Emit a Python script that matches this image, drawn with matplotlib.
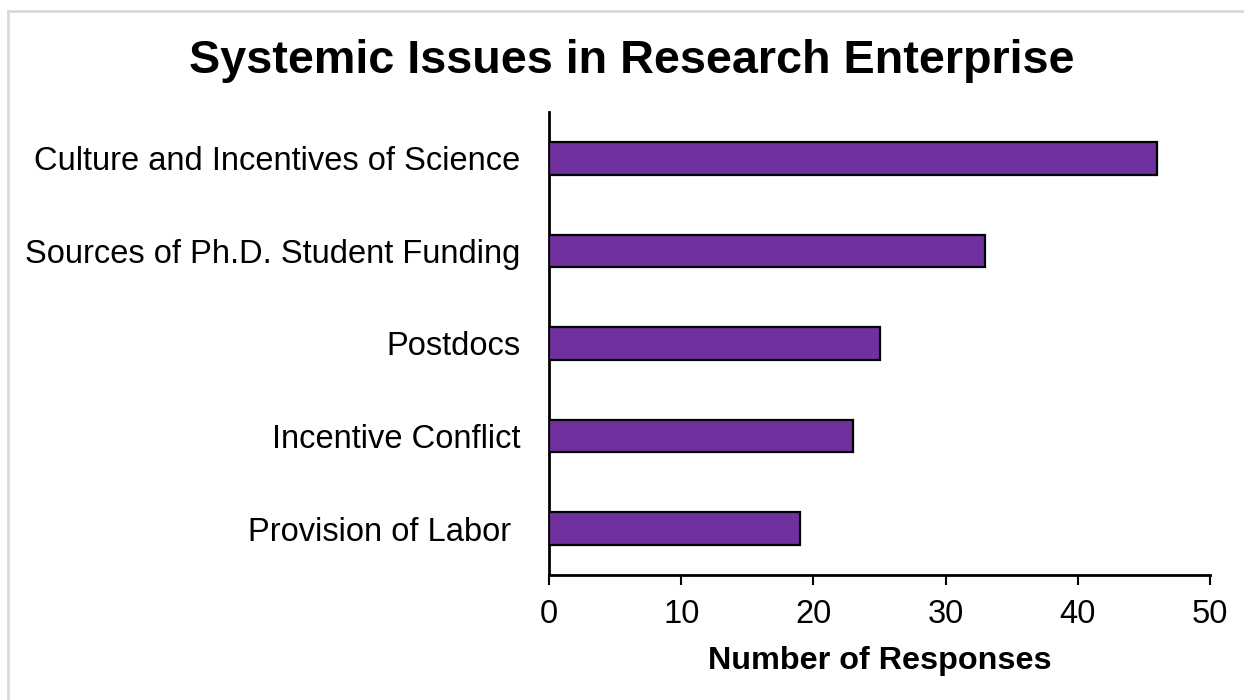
import matplotlib
matplotlib.use("Agg")
import matplotlib.pyplot as plt
from matplotlib.lines import Line2D

categories = ["Provision of Labor ", "Incentive Conflict", "Postdocs",
              "Sources of Ph.D. Student Funding", "Culture and Incentives of Science"]
values = [19, 23, 25, 33, 46]
xticks = [0, 10, 20, 30, 40, 50]

plt.rcParams['font.family'] = ['Liberation Sans', 'DejaVu Sans']

W, H = 1244, 700
fig = plt.figure(figsize=(W / 100, H / 100), dpi=100)
ax = fig.add_axes([549 / W, 1 - 575 / H, (1210 - 549) / W, (575 - 112) / H])

ax.barh(range(len(categories)), values, height=0.35, color="#7030A0",
        edgecolor="black", linewidth=1.6, zorder=3)
ax.set_ylim(-0.5, len(categories) - 0.5)
ax.set_xlim(0, 50)
ax.set_xticks(xticks)
ax.set_yticks(range(len(categories)))
ax.set_yticklabels(categories, fontsize=23.5)
ax.tick_params(axis='y', length=0, pad=20.5)
ax.tick_params(axis='x', length=7.5, width=1.5, labelsize=23.5, pad=10, direction='out')
for s in ["top", "right"]:
    ax.spines[s].set_visible(False)
for s in ["left", "bottom"]:
    ax.spines[s].set_linewidth(2)
ax.set_xlabel("Number of Responses", fontsize=23.3, fontweight='bold', labelpad=11)

fig.text(631.5 / W, 1 - 61 / H, "Systemic Issues in Research Enterprise",
         ha='center', va='center', fontsize=33.7, fontweight='bold')

# light gray outer border (top and left visible)
fig.add_artist(Line2D([8 / W, 1.0], [1 - 11 / H, 1 - 11 / H], color="#d9d9d9", linewidth=2))
fig.add_artist(Line2D([8 / W, 8 / W], [0, 1 - 11 / H], color="#d9d9d9", linewidth=2))

fig.savefig("out.png", dpi=100)
